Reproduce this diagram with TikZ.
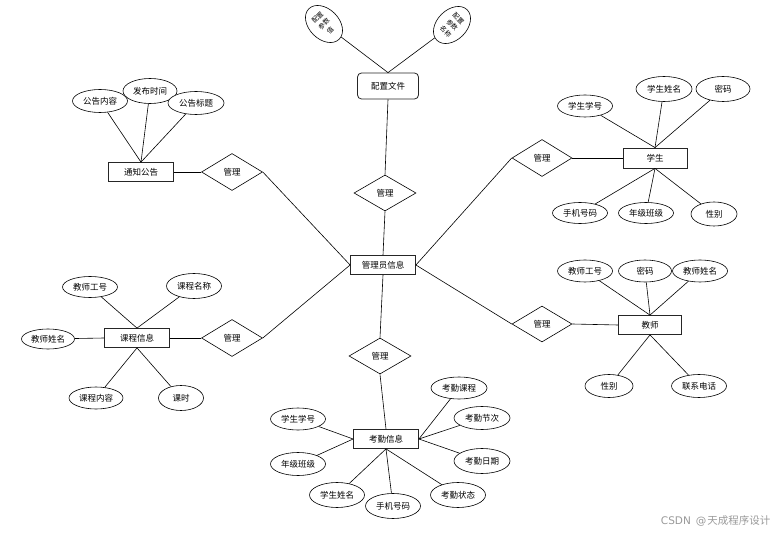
\documentclass[tikz,border=0pt]{standalone}
\usepackage{fontspec}
\setmainfont{Noto Sans CJK SC}
\newfontfamily\wmlatin{DejaVu Sans}
\usetikzlibrary{shapes.geometric}
\tikzset{ent/.style={draw=black!85, line width=0.8pt, fill=white, minimum width=65pt, minimum height=19pt, inner sep=0pt}}
\tikzset{attr/.style={ellipse, draw, fill=white, minimum width=55pt, minimum height=22pt, inner sep=0pt}}
\tikzset{rel/.style={diamond, draw, fill=white, minimum width=61pt, minimum height=37pt, inner sep=0pt}}
\tikzset{tilted/.style={attr, minimum width=30pt, minimum height=43pt, align=center, font=\fontsize{6.5}{9}\selectfont}}

\begin{document}
\begin{tikzpicture}[x=1pt, y=-1pt, line width=0.6pt, font=\fontsize{8.5}{10}\selectfont]
  \useasboundingbox (0, 0) rectangle (781, 534);

  \node (adm) [ent] at (383, 265) {管理员信息};
  \node (cfg) [ent, rounded corners=4pt, minimum width=61pt, minimum height=26pt] at (388, 86) {配置文件};
  \node (tz) [ent] at (141, 172) {通知公告};
  \node (xs) [ent, minimum width=64pt, minimum height=20pt] at (655, 158) {学生};
  \node (js) [ent, minimum width=63pt] at (650, 325) {教师};
  \node (kc) [ent] at (137, 338) {课程信息};
  \node (kq) [ent] at (386, 439) {考勤信息};

  \node (r1) [rel] at (232, 172) {管理};
  \node (r2) [rel, minimum width=62pt, minimum height=36pt] at (385, 193) {管理};
  \node (r3) [rel] at (232, 338) {管理};
  \node (r4) [rel, minimum width=62pt, minimum height=36pt] at (380, 356) {管理};
  \node (r5) [rel, minimum width=60pt] at (542, 158) {管理};
  \node (r6) [rel, minimum width=60pt, minimum height=36pt] at (542, 324) {管理};

  \node (cfg1) [tilted, rotate=45] at (324, 24) {配置\\参数\\值};
  \node (cfg2) [tilted, rotate=-45] at (452, 25) {配置\\参数\\名称};

  \node (tz1) [attr, minimum height=23pt] at (100, 101) {公告内容};
  \node (tz2) [attr, minimum width=54pt, minimum height=25pt] at (150, 91) {发布时间};
  \node (tz3) [attr, minimum width=56pt, minimum height=23pt] at (196, 103) {公告标题};

  \node (xs1) [attr] at (585, 106) {学生学号};
  \node (xs2) [attr, minimum width=56pt, minimum height=25pt] at (664, 89) {学生姓名};
  \node (xs3) [attr, minimum width=54pt, minimum height=25pt] at (723, 89) {密码};
  \node (xs4) [attr, minimum height=21pt] at (580, 213) {手机号码};
  \node (xs5) [attr, minimum height=21pt] at (646, 213) {年级班级};
  \node (xs6) [attr, minimum width=46pt, minimum height=24pt] at (714, 214) {性别};

  \node (js1) [attr] at (585, 271) {教师工号};
  \node (js2) [attr, minimum width=53pt] at (645, 271) {密码};
  \node (js3) [attr] at (700, 271) {教师姓名};
  \node (js4) [attr, minimum width=48pt, minimum height=23pt] at (609, 386) {性别};
  \node (js5) [attr, minimum height=23pt] at (699, 386) {联系电话};

  \node (kc1) [attr, minimum height=21pt] at (90, 287) {教师工号};
  \node (kc2) [attr, minimum height=25pt] at (194, 286) {课程名称};
  \node (kc3) [attr, minimum width=53pt, minimum height=20pt] at (48, 339) {教师姓名};
  \node (kc4) [attr, minimum width=54pt] at (96, 398) {课程内容};
  \node (kc5) [attr, minimum width=45pt, minimum height=25pt] at (181, 398) {课时};

  \node (kq1) [attr, minimum width=56pt] at (459, 388) {考勤课程};
  \node (kq2) [attr, minimum width=56pt, minimum height=23pt] at (482, 418) {考勤节次};
  \node (kq3) [attr, minimum width=56pt, minimum height=25pt] at (482, 461) {考勤日期};
  \node (kq4) [attr, minimum height=25pt] at (458, 495) {考勤状态};
  \node (kq5) [attr] at (298, 419) {学生学号};
  \node (kq6) [attr, minimum height=23pt] at (298, 464) {年级班级};
  \node (kq7) [attr, minimum height=25pt] at (337, 495) {学生姓名};
  \node (kq8) [attr, minimum height=25pt] at (393, 506) {手机号码};

  \node (wm) [anchor=east, text=black!40, font=\fontsize{10.5}{12}\selectfont] at (774, 521) {{\wmlatin CSDN\hspace{5pt}@}\hspace{1pt}天成程序设计};

  \draw (adm.north) edge (r2.south);
  \draw (r2.north) edge (cfg.south);
  \draw (cfg.north) edge (cfg1);
  \draw (cfg.north) edge (cfg2);

  \draw (adm.west) edge (r1.east);
  \draw (r1.west) edge (tz.east);
  \draw (tz.north) edge (tz1);
  \draw (tz.north) edge (tz2);
  \draw (tz.north) edge (tz3);

  \draw (adm.west) edge (r3.east);
  \draw (r3.west) edge (kc.east);
  \draw (kc.north) edge (kc1);
  \draw (kc.north) edge (kc2);
  \draw (kc.west) edge (kc3);
  \draw (kc.south) edge (kc4);
  \draw (kc.south) edge (kc5);

  \draw (adm.south) edge (r4.north);
  \draw (r4.south) edge (kq.north);
  \draw (kq.east) edge (kq1);
  \draw (kq.east) edge (kq2);
  \draw (kq.east) edge (kq3);
  \draw (kq.south) edge (kq4);
  \draw (kq.west) edge (kq5);
  \draw (kq.west) edge (kq6);
  \draw (kq.south) edge (kq7);
  \draw (kq.south) edge (kq8);

  \draw (adm.east) edge (r5.west);
  \draw (r5.east) edge (xs.west);
  \draw (xs.north) edge (xs1);
  \draw (xs.north) edge (xs2);
  \draw (xs.north) edge (xs3);
  \draw (xs.south) edge (xs4);
  \draw (xs.south) edge (xs5);
  \draw (xs.south) edge (xs6);

  \draw (adm.east) edge (r6.west);
  \draw (r6.east) edge (js.west);
  \draw (js.north) edge (js1);
  \draw (js.north) edge (js2);
  \draw (js.north) edge (js3);
  \draw (js.south) edge (js4);
  \draw (js.south) edge (js5);
\end{tikzpicture}
\end{document}
